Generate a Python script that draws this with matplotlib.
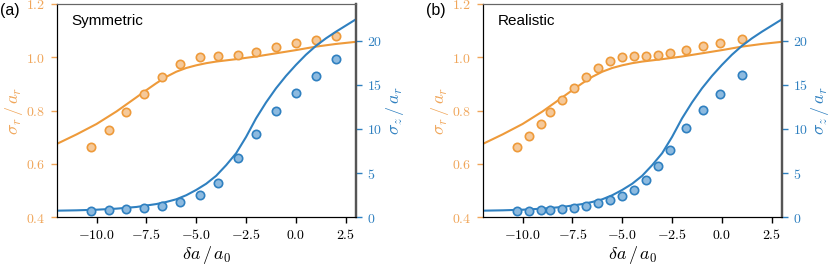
import numpy as np
import matplotlib
matplotlib.use("Agg")
import matplotlib.pyplot as plt
from matplotlib.ticker import FuncFormatter, MultipleLocator

plt.rcParams['font.family'] = ['Liberation Sans', 'DejaVu Sans']
plt.rcParams['mathtext.fontset'] = 'cm'

# theory curves (same in both panels)
curve_r_x = [-12, -11, -10, -9, -8, -7.5, -7, -6.5, -6, -5.5, -5, -4.5, -4, -3, -2, -1, 0, 1, 2, 3]
curve_r_y = [0.675, 0.711, 0.750, 0.797, 0.850, 0.877, 0.903, 0.927, 0.946, 0.960, 0.970,
             0.978, 0.984, 0.993, 1.003, 1.015, 1.027, 1.040, 1.050, 1.058]
curve_z_x = [-12, -11, -10, -9, -8, -7, -6.5, -6, -5.5, -5, -4.5, -4, -3.5, -3, -2.5, -2,
             -1.5, -1, -0.5, 0, 0.5, 1, 1.5, 2, 2.5, 3]
curve_z_y = [0.75, 0.79, 0.86, 0.98, 1.17, 1.50, 1.74, 2.04, 2.50, 3.10, 3.80, 4.70, 5.90,
             7.25, 9.10, 11.2, 13.0, 14.6, 16.0, 17.25, 18.4, 19.4, 20.25, 21.0, 21.7, 22.4]

# (a) symmetric
xa = [-10.3, -9.4, -8.5, -7.6, -6.7, -5.8, -4.8, -3.9, -2.9, -2.0, -1.0, 0.0, 1.0, 2.0]
ra = [0.665, 0.729, 0.796, 0.864, 0.926, 0.975, 1.002, 1.005, 1.009, 1.021, 1.037, 1.052, 1.066, 1.080]
za = [0.75, 0.83, 0.91, 1.06, 1.31, 1.77, 2.53, 3.92, 6.68, 9.43, 12.0, 14.08, 16.0, 17.93]

# (b) realistic
xb = [-10.3, -9.7, -9.1, -8.6, -8.0, -7.4, -6.8, -6.2, -5.6, -5.0, -4.4, -3.8, -3.2, -2.6,
      -1.8, -0.95, -0.1, 1.0]
rb = [0.665, 0.706, 0.750, 0.795, 0.841, 0.884, 0.925, 0.961, 0.985, 1.001, 1.006, 1.006,
      1.007, 1.015, 1.027, 1.041, 1.055, 1.069]
zb = [0.71, 0.75, 0.83, 0.86, 0.94, 1.09, 1.25, 1.62, 1.93, 2.38, 3.09, 4.19, 5.78, 7.66,
      10.11, 12.19, 13.93, 16.12]

orange = '#EE9A3A'
orange_face = '#F5C99A'
orange_txt = '#F0A65A'
blue = '#2F80C0'
blue_face = '#8DBADF'


def sf(fmt):
    return FuncFormatter(lambda v, p: r'$\mathsf{' + (fmt % v).replace('-0.0', '0.0') + '}$')


def panel(rect, label, title, x, r, z):
    ax = fig.add_axes(rect)
    ax2 = ax.twinx()
    ax.plot(curve_r_x, curve_r_y, color=orange, lw=1.5, zorder=2)
    ax.plot(x, r, 'o', ms=6, mfc=orange_face, mec=orange, mew=1.2, zorder=3)
    ax2.plot(curve_z_x, curve_z_y, color=blue, lw=1.5, zorder=2)
    ax2.plot(x, z, 'o', ms=6, mfc=blue_face, mec=blue, mew=1.2, zorder=3)

    ax.set_xlim(-12, 3)
    ax.set_ylim(0.4, 1.2)
    ax2.set_ylim(0, 24.15)
    ax.xaxis.set_major_locator(MultipleLocator(2.5))
    ax.yaxis.set_major_locator(MultipleLocator(0.2))
    ax2.yaxis.set_major_locator(MultipleLocator(5))
    ax.xaxis.set_major_formatter(sf('%.1f'))
    ax.yaxis.set_major_formatter(sf('%.1f'))
    ax2.yaxis.set_major_formatter(sf('%d'))

    ax.tick_params(axis='x', labelsize=10, length=4.5, width=1, colors='black')
    ax.tick_params(axis='y', labelsize=10, length=4.5, width=1, colors=orange_txt)
    ax2.tick_params(axis='y', labelsize=10, length=4.5, width=1, colors=blue)

    for a in (ax, ax2):
        a.spines['left'].set_color('black')
        a.spines['bottom'].set_color('black')
        a.spines['top'].set_color('#666666')
        a.spines['right'].set_color('#555555')
        a.spines['right'].set_linewidth(1.6)

    ax.set_xlabel(r'$\delta a\,/\,a_0$', fontsize=13, labelpad=1)
    ax.set_ylabel(r'$\sigma_r\,/\,a_r$', fontsize=13, color=orange_txt, labelpad=1)
    ax2.set_ylabel(r'$\sigma_z\,/\,a_r$', fontsize=13, color=blue, labelpad=1)

    ax.text(0.05, 0.92, title, transform=ax.transAxes, fontsize=11, va='center')
    fig.text(rect[0] - 0.068, 0.99, label, fontsize=11.5, va='top', ha='left')


fig = plt.figure(figsize=(8.3, 2.65), dpi=100)
panel([0.0683, 0.180, 0.3603, 0.805], '(a)', 'Symmetric', xa, ra, za)
panel([0.5816, 0.180, 0.3602, 0.805], '(b)', 'Realistic', xb, rb, zb)

fig.savefig('out.png', dpi=100)
